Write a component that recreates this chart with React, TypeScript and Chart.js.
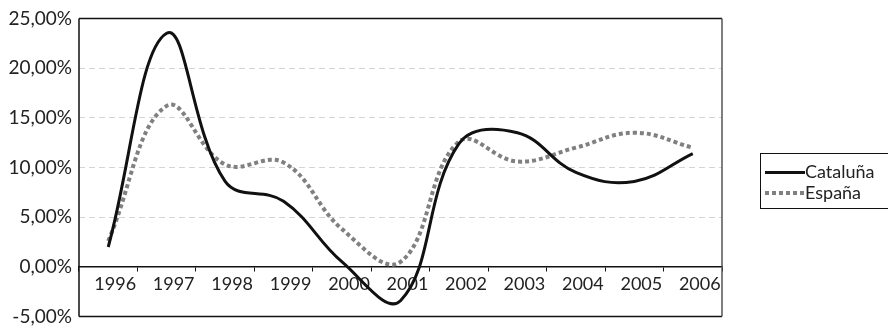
import React, { useEffect, useRef } from "react";
import { Chart, registerables } from "chart.js";

Chart.register(...registerables);

const years = ["1996", "1997", "1998", "1999", "2000", "2001", "2002", "2003", "2004", "2005", "2006"];
const cataluna = [2.0, 23.5, 8.6, 6.6, 0.5, -3.4, 12.4, 13.5, 9.5, 8.6, 11.4];
const espana = [2.6, 16.2, 10.3, 10.5, 3.8, 0.5, 12.6, 10.6, 12.0, 13.5, 12.0];
const yTicks = [-5, 0, 5, 10, 15, 20, 25];

const FONT = "Lato, 'Open Sans', sans-serif";

const framePlugin = {
  id: "frame",
  afterDraw(chart: any) {
    const { ctx, chartArea } = chart;
    const { left, right, top, bottom } = chartArea;
    ctx.save();
    ctx.lineWidth = 1.5;
    ctx.strokeStyle = "#111";
    ctx.beginPath();
    ctx.moveTo(left, top);
    ctx.lineTo(right, top);
    ctx.moveTo(left, bottom);
    ctx.lineTo(right, bottom);
    ctx.moveTo(left, top);
    ctx.lineTo(left, bottom);
    ctx.stroke();
    ctx.strokeStyle = "#555";
    ctx.beginPath();
    ctx.moveTo(right, top);
    ctx.lineTo(right, bottom);
    ctx.stroke();
    ctx.restore();
  },
};

export default function App() {
  const ref = useRef<HTMLCanvasElement>(null);
  useEffect(() => {
    const chart = new Chart(ref.current!, {
      type: "line",
      data: {
        labels: years,
        datasets: [
          {
            label: "Cataluña",
            data: cataluna,
            borderColor: "#111111",
            borderWidth: 3,
            pointRadius: 0,
            tension: 0.4,
            fill: false,
          },
          {
            label: "España",
            data: espana,
            borderColor: "#808080",
            borderWidth: 4,
            borderDash: [4, 3],
            borderCapStyle: "butt",
            pointRadius: 0,
            tension: 0.4,
            fill: false,
          },
        ],
      },
      options: {
        animation: false,
        responsive: false,
        maintainAspectRatio: false,
        layout: { padding: { top: 17, right: 166, bottom: 12, left: 0 } },
        plugins: { legend: { display: false }, tooltip: { enabled: false } },
        scales: {
          x: {
            type: "category",
            position: { y: 0 } as any,
            offset: true,
            grid: {
              display: true,
              offset: true,
              drawOnChartArea: false,
              drawTicks: true,
              tickLength: 4,
              color: "#111",
            },
            border: { display: true, color: "#111", width: 1.5 },
            ticks: {
              color: "#222",
              font: { family: FONT, size: 18 },
              labelOffset: 7,
              padding: 2,
              maxRotation: 0,
              autoSkip: false,
            },
          },
          y: {
            min: -5,
            max: 25,
            afterFit(scale: any) {
              scale.width = 79;
            },
            afterBuildTicks(scale: any) {
              scale.ticks = yTicks.map((v) => ({ value: v }));
            },
            grid: {
              color: (c: any) => (c.tick && (c.tick.value === 0 || c.tick.value === -5 || c.tick.value === 25) ? "rgba(0,0,0,0)" : "#d4d4d4"),
              drawTicks: false,
              lineWidth: 1,
            },
            border: { display: false, dash: [6, 4] },
            ticks: {
              color: "#222",
              font: { family: FONT, size: 19 },
              padding: 7,
              callback: (v: any) => Number(v).toFixed(2).replace(".", ",") + "%",
            },
          },
        },
      },
      plugins: [framePlugin],
    } as any);
    return () => chart.destroy();
  }, []);

  return (
    <div style={{ position: "fixed", left: 0, top: 0, width: 888, height: 335, background: "#fff" }}>
      <canvas ref={ref} width={888} height={335} style={{ position: "absolute", left: 0, top: 0 }} />
      <div
        style={{
          position: "absolute",
          left: 760,
          top: 153,
          width: 140,
          height: 56,
          border: "1px solid #111",
          boxSizing: "border-box",
          fontFamily: FONT,
          fontSize: 18,
          color: "#222",
        }}
      >
        <div style={{ position: "absolute", left: 4, top: 17, width: 40, height: 3, background: "#111" }} />
        <div style={{ position: "absolute", left: 44, top: 7, lineHeight: "21px" }}>Cataluña</div>
        <svg style={{ position: "absolute", left: 4, top: 37 }} width={40} height={4}>
          <line x1={0} y1={2} x2={40} y2={2} stroke="#808080" strokeWidth={4} strokeDasharray="4 3" />
        </svg>
        <div style={{ position: "absolute", left: 44, top: 28, lineHeight: "21px" }}>España</div>
      </div>
    </div>
  );
}
